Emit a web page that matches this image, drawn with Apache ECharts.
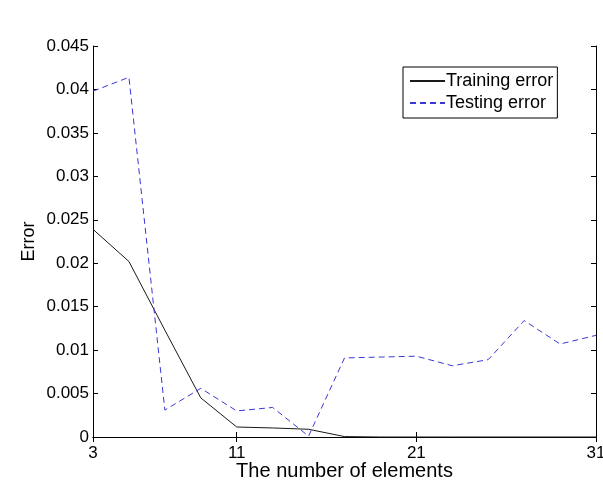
<!DOCTYPE html>
<html>
<head>
<meta charset="utf-8">
<script src="https://cdn.jsdelivr.net/npm/echarts@6/dist/echarts.min.js"></script>
<style>html,body{margin:0;padding:0;background:#fff;}#c{width:603px;height:484px;}</style>
</head>
<body>
<div id="c"></div>
<script>
const elements = [3, 5, 7, 9, 11, 13, 15, 17, 19, 21, 23, 25, 27, 29, 31];
const trainingError = [0.0239, 0.0202, 0.0123, 0.0045, 0.00115, 0.00104, 0.00089, 0.00005, 0, 0, 0, 0, 0, 0, 0];
const testingError = [0.0398, 0.0414, 0.0031, 0.0056, 0.0030, 0.0034, 0.0001, 0.0091, 0.0092, 0.0093, 0.0082, 0.0089, 0.0134, 0.0107, 0.0117];
const xTickValues = [3, 11, 21, 31];
const seriesNames = ['Training error', 'Testing error'];

const font = 'Liberation Sans, Arial, sans-serif';
const chart = echarts.init(document.getElementById('c'), null, {renderer: 'canvas'});
const pairs = (xs, ys) => xs.map((x, i) => [x, ys[i]]);
const xBase = {
  type: 'value', min: 3, max: 31,
  axisLine: {show: true, lineStyle: {color: '#000', width: 1}},
  splitLine: {show: false},
  axisTick: {show: true, inside: true, length: 5, customValues: xTickValues, lineStyle: {color: '#000'}},
};
const yBase = {
  type: 'value', min: 0, max: 0.045, interval: 0.005,
  axisLine: {show: true, lineStyle: {color: '#000', width: 1}},
  splitLine: {show: false},
  axisTick: {show: true, inside: true, length: 5, lineStyle: {color: '#000'}},
};
chart.setOption({
  backgroundColor: '#fff',
  animation: false,
  grid: {left: 93, right: 7, top: 46, bottom: 47, containLabel: false, outerBoundsMode: 'none'},
  legend: {
    orient: 'vertical', left: 403, top: 67,
    data: seriesNames,
    itemWidth: 35, itemHeight: 14, itemGap: 4,
    padding: [5, 4, 6, 6],
    borderColor: '#000', borderWidth: 1, backgroundColor: '#fff',
    itemStyle: {opacity: 0},
    textStyle: {fontFamily: font, fontSize: 18, color: '#000', padding: [0, 0, 0, -4]}
  },
  xAxis: [
    Object.assign({}, xBase, {
      position: 'bottom',
      name: 'The number of elements', nameLocation: 'middle', nameGap: 24, nameMoveOverlap: false,
      nameTextStyle: {fontFamily: font, fontSize: 20, color: '#000', verticalAlign: 'top'},
      axisLabel: {show: true, customValues: xTickValues, margin: 8, fontFamily: font, fontSize: 17, color: '#000'}
    }),
    Object.assign({}, xBase, {position: 'top', axisLabel: {show: false}})
  ],
  yAxis: [
    Object.assign({}, yBase, {
      position: 'left',
      name: 'Error', nameLocation: 'middle', nameGap: 55, nameMoveOverlap: false,
      nameTextStyle: {fontFamily: font, fontSize: 18, color: '#000'},
      axisLabel: {show: true, margin: 4, fontFamily: font, fontSize: 17, color: '#000'}
    }),
    Object.assign({}, yBase, {position: 'right', axisLabel: {show: false}})
  ],
  series: [
    {
      name: seriesNames[0], type: 'line', xAxisIndex: 0, yAxisIndex: 0,
      data: pairs(elements, trainingError),
      symbol: 'none', showSymbol: false,
      lineStyle: {color: '#1a1a1a', width: 1, type: 'solid'},
      itemStyle: {color: '#1a1a1a'}
    },
    {
      name: seriesNames[1], type: 'line', xAxisIndex: 0, yAxisIndex: 0,
      data: pairs(elements, testingError),
      symbol: 'none', showSymbol: false,
      lineStyle: {color: '#3838d8', width: 1, type: [6, 4]},
      itemStyle: {color: '#3838d8'}
    }
  ]
});
</script>
</body>
</html>
